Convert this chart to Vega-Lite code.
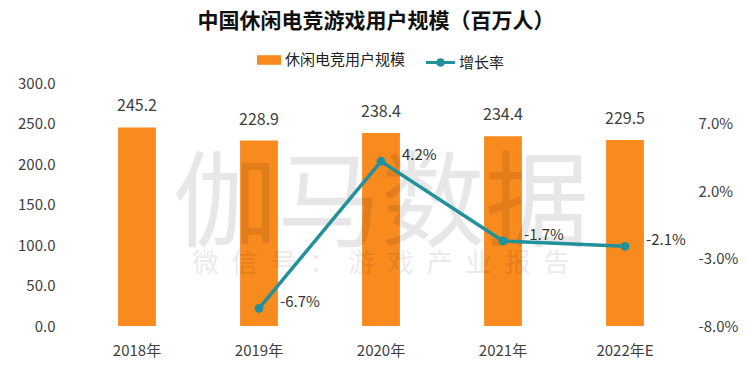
{
  "$schema": "https://vega.github.io/schema/vega-lite/v6.json",
  "width": 610,
  "height": 243,
  "autosize": {"type": "none"},
  "padding": {"left": 76, "top": 83, "right": 64, "bottom": 53},
  "background": "white",
  "title": {
    "text": "中国休闲电竞游戏用户规模（百万人）",
    "font": "Noto Sans CJK SC",
    "fontSize": 21,
    "fontWeight": "bold",
    "color": "#111111",
    "anchor": "middle",
    "offset": 16,
    "dx": -5
  },
  "config": {
    "view": {"stroke": null},
    "font": "Noto Sans CJK SC",
    "legend": {"layout": {"top": {"anchor": "middle", "direction": "horizontal", "margin": 20}}}
  },
  "data": {
    "values": [
      {"year": "2018年", "users": 245.2, "growth": null},
      {"year": "2019年", "users": 228.9, "growth": -6.7},
      {"year": "2020年", "users": 238.4, "growth": 4.2},
      {"year": "2021年", "users": 234.4, "growth": -1.7},
      {"year": "2022年E", "users": 229.5, "growth": -2.1}
    ]
  },
  "encoding": {
    "x": {
      "field": "year",
      "type": "nominal",
      "sort": null,
      "scale": {"paddingInner": 0.69, "paddingOuter": 0.345},
      "axis": {
        "title": null,
        "labelAngle": 0,
        "domain": false,
        "ticks": false,
        "labelPadding": 17,
        "labelFontSize": 15,
        "labelColor": "#404040",
        "labelFont": "Noto Sans CJK SC"
      }
    }
  },
  "layer": [
    {
      "mark": {"type": "bar", "color": "#F98A1E"},
      "encoding": {
        "y": {
          "field": "users",
          "type": "quantitative",
          "scale": {"domain": [0, 300]},
          "axis": {
            "title": null,
            "values": [0, 50, 100, 150, 200, 250, 300],
            "format": ".1f",
            "grid": false,
            "domain": false,
            "ticks": false,
            "labelPadding": 21,
            "labelFontSize": 15,
            "labelColor": "#404040"
          }
        },
        "fill": {
          "datum": "休闲电竞用户规模",
          "type": "nominal",
          "scale": {"range": ["#F98A1E"]},
          "legend": {
            "title": null,
            "orient": "top",
            "offset": 12,
            "symbolType": "M-1,-0.4L1,-0.4L1,0.4L-1,0.4Z",
            "symbolSize": 576,
            "symbolStrokeWidth": 0,
            "labelFontSize": 15,
            "labelColor": "#222222",
            "labelOffset": 4
          }
        }
      }
    },
    {
      "mark": {"type": "text", "dy": -13, "fontSize": 16, "color": "#404040", "baseline": "bottom"},
      "encoding": {
        "y": {"field": "users", "type": "quantitative", "scale": {"domain": [0, 300]}, "axis": null},
        "text": {"field": "users", "type": "quantitative", "format": ".1f"}
      }
    },
    {
      "data": {"values": [{"wm": "伽马数据", "wx": "2020年", "wy": 146}]},
      "mark": {"type": "text", "fontSize": 104, "color": "#000000", "opacity": 0.09, "baseline": "middle", "align": "center"},
      "encoding": {
        "x": {"field": "wx", "type": "nominal"},
        "y": {"field": "wy", "type": "quantitative", "scale": {"domain": [0, 300]}, "axis": null},
        "text": {"field": "wm"}
      }
    },
    {
      "data": {"values": [{"wm": "微\u2002信\u2002号\u2002：\u2002游\u2002戏\u2002产\u2002业\u2002报\u2002告", "wx": "2020年", "wy": 76}]},
      "mark": {"type": "text", "fontSize": 26, "color": "#000000", "opacity": 0.08, "baseline": "middle", "align": "center"},
      "encoding": {
        "x": {"field": "wx", "type": "nominal"},
        "y": {"field": "wy", "type": "quantitative", "scale": {"domain": [0, 300]}, "axis": null},
        "text": {"field": "wm"}
      }
    },
    {
      "transform": [
        {"filter": "datum.growth != null"},
        {"calculate": "replace(format(datum.growth, '.1f'), '\u2212', '-') + '%'", "as": "glabel"}
      ],
      "encoding": {
        "y": {
          "field": "growth",
          "type": "quantitative",
          "scale": {"domain": [-8, 10]},
          "axis": {
            "title": null,
            "orient": "right",
            "values": [-8, -3, 2, 7],
            "labelExpr": "replace(format(datum.value, '.1f'), '\u2212', '-') + '%'",
            "grid": false,
            "domain": false,
            "ticks": false,
            "labelPadding": 12,
            "labelFontSize": 15,
            "labelColor": "#404040"
          }
        }
      },
      "layer": [
        {
          "mark": {"type": "line", "strokeWidth": 3.5, "color": "#22919C"},
          "encoding": {
            "stroke": {
              "datum": "增长率",
              "type": "nominal",
              "scale": {"range": ["#22919C"]},
              "legend": {
                "title": null,
                "orient": "top",
                "offset": 12,
                "symbolType": "M-1,-0.1L1,-0.1L1,0.1L-1,0.1Z M0.3,0A0.3,0.3 0 1,1 -0.3,0A0.3,0.3 0 1,1 0.3,0Z",
                "symbolSize": 841,
                "symbolFillColor": "#22919C",
                "symbolStrokeWidth": 0,
                "labelFontSize": 15,
                "labelColor": "#222222",
                "labelOffset": 4
              }
            }
          }
        },
        {
          "mark": {"type": "point", "filled": true, "size": 80, "opacity": 1, "color": "#22919C"}
        },
        {
          "mark": {"type": "text", "align": "left", "dx": 21, "dy": -6, "fontSize": 15, "color": "#333333"},
          "encoding": {
            "text": {"field": "glabel", "type": "nominal"}
          }
        }
      ]
    }
  ],
  "resolve": {"scale": {"y": "independent", "fill": "independent", "stroke": "independent"}}
}
